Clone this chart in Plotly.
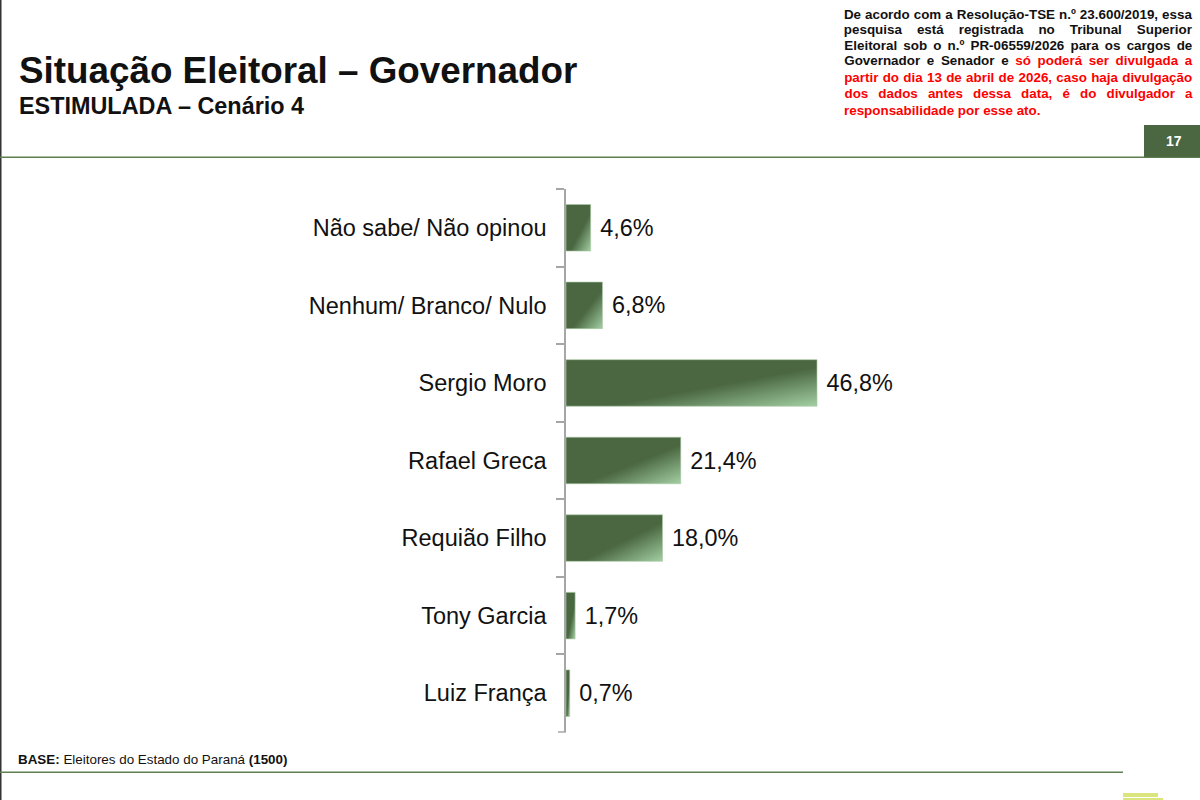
import plotly.graph_objects as go

categories = ["Não sabe/ Não opinou", "Nenhum/ Branco/ Nulo", "Sergio Moro", "Rafael Greca",
              "Requião Filho", "Tony Garcia", "Luiz França"]
values = [4.6, 6.8, 46.8, 21.4, 18.0, 1.7, 0.7]
value_labels = ["\u00a0" + f"{v:.1f}%".replace(".", ",") for v in values]

notice_lines = [
    "De acordo com a Resolução-TSE n.º 23.600/2019, essa",
    "pesquisa está registrada no Tribunal Superior",
    "Eleitoral sob o n.º PR-06559/2026 para os cargos de",
    "Governador e Senador e <span style='color:#ff0000'>só poderá ser divulgada a</span>",
    "<span style='color:#ff0000'>partir do dia 13 de abril de 2026, caso haja divulgação</span>",
    "<span style='color:#ff0000'>dos dados antes dessa data, é do divulgador a</span>",
]
notice_last = "<span style='color:#ff0000'>responsabilidade por esse ato.</span>"

W, H = 1200, 800
LEFT, RIGHT, TOP, BOTTOM = 566, 1102, 189, 732
FONT = "Liberation Sans"
GREEN = "#4a6741"
AXIS_GREY = "#a6a6a6"


def px(x):
    return (x - LEFT) / (RIGHT - LEFT)


def py(y):
    return (BOTTOM - y) / (BOTTOM - TOP)


def rect(x0, y0, x1, y1, color):
    return dict(type="rect", xref="paper", yref="paper", layer="below",
                x0=px(x0), x1=px(x1), y0=py(y0), y1=py(y1),
                fillcolor=color, line=dict(width=0))


def label(x, y, text, size, xanchor="left", color="#111111"):
    return dict(xref="paper", yref="paper", x=px(x), y=py(y), text=text, showarrow=False,
                xanchor=xanchor, yanchor="middle", borderpad=0,
                font=dict(family=FONT, size=size, color=color))


fig = go.Figure()

fig.add_trace(go.Bar(
    x=values,
    y=categories,
    orientation="h",
    text=value_labels,
    textposition="outside",
    cliponaxis=False,
    textfont=dict(family=FONT, size=23.4, color="#111111"),
    marker=dict(color=GREEN, line=dict(color="#a9c9a4", width=0.6)),
))

shapes = [
    rect(0, 0, 1.5, 800, "#333333"),
    rect(0, 156.5, 1200, 158, "#5f7f50"),
    rect(1144, 125, 1200, 157, GREEN),
    rect(0, 771.5, 1123, 773, "#5f7f50"),
    rect(1123, 793, 1158, 797, "#dbe57e"),
    rect(1123, 798, 1163, 800, "#dbe57e"),
    # closing tick, plotly leaves out the last boundary tick on a category axis
    rect(558, 731.2, 566, 732.7, AXIS_GREY),
]

annotations = [
    label(18, 70, "<b>Situação Eleitoral – Governador</b>", 36.8),
    label(18, 106, "<b>ESTIMULADA – Cenário 4</b>", 23.4),
    label(1174, 141, "<b>17</b>", 14, xanchor="center", color="#ffffff"),
    label(17, 759, "<b>BASE:</b> Eleitores do Estado do Paraná <b>(1500)</b>", 13.4),
]
notice_y = [14, 30, 45, 61, 77, 94]
for y, line in zip(notice_y, notice_lines):
    annotations.append(label(1018, y, f"<b>{line}</b>", 13.4, xanchor="center"))
annotations.append(label(843, 110, f"<b>{notice_last}</b>", 13.4))

fig.update_layout(
    width=W,
    height=H,
    autosize=False,
    margin=dict(l=LEFT, r=W - RIGHT, t=TOP, b=H - BOTTOM, pad=0),
    paper_bgcolor="white",
    plot_bgcolor="white",
    showlegend=False,
    bargap=0.4,
    shapes=shapes,
    annotations=annotations,
    font=dict(family=FONT),
    xaxis=dict(range=[0, 536 / 5.363], visible=False),
    yaxis=dict(
        autorange="reversed",
        type="category",
        tickson="boundaries",
        ticks="outside",
        ticklen=8,
        tickcolor=AXIS_GREY,
        tickwidth=1.5,
        showline=True,
        linecolor=AXIS_GREY,
        linewidth=1.5,
        showgrid=False,
        ticklabelstandoff=13,
        tickfont=dict(family=FONT, size=23.5, color="#111111"),
    ),
)

# plotly has no gradient fill on bars and no justified text, both are patched in the page
post_script = """
document.body.style.margin = '0';
var svg = document.querySelector('.main-svg');
var ns = 'http://www.w3.org/2000/svg';
var grad = document.createElementNS(ns, 'linearGradient');
grad.id = 'barGrad';
grad.setAttribute('x1', '0'); grad.setAttribute('y1', '0');
grad.setAttribute('x2', '1'); grad.setAttribute('y2', '1');
[['0', '#4a6741'], ['0.58', '#4a6741'], ['1', '#a3cfa3']].forEach(function (s) {
    var stop = document.createElementNS(ns, 'stop');
    stop.setAttribute('offset', s[0]);
    stop.setAttribute('stop-color', s[1]);
    grad.appendChild(stop);
});
var defs = document.createElementNS(ns, 'defs');
defs.appendChild(grad);
svg.appendChild(defs);
document.querySelectorAll('.bars .point path').forEach(function (p) {
    p.style.fill = 'url(#barGrad)';
});
document.querySelectorAll('text.annotation-text').forEach(function (t) {
    var content = t.textContent;
    var isNotice = ['De acordo', 'pesquisa', 'Eleitoral sob', 'Governador e', 'partir do', 'dos dados']
        .some(function (s) { return content.indexOf(s) === 0; });
    if (!isNotice) return;
    var gaps = content.split(' ').length - 1;
    var spare = 348 - t.getComputedTextLength();
    t.style.wordSpacing = (spare / gaps) + 'px';
});
"""

fig.write_html("out.html", post_script=post_script, config=dict(displayModeBar=False))
